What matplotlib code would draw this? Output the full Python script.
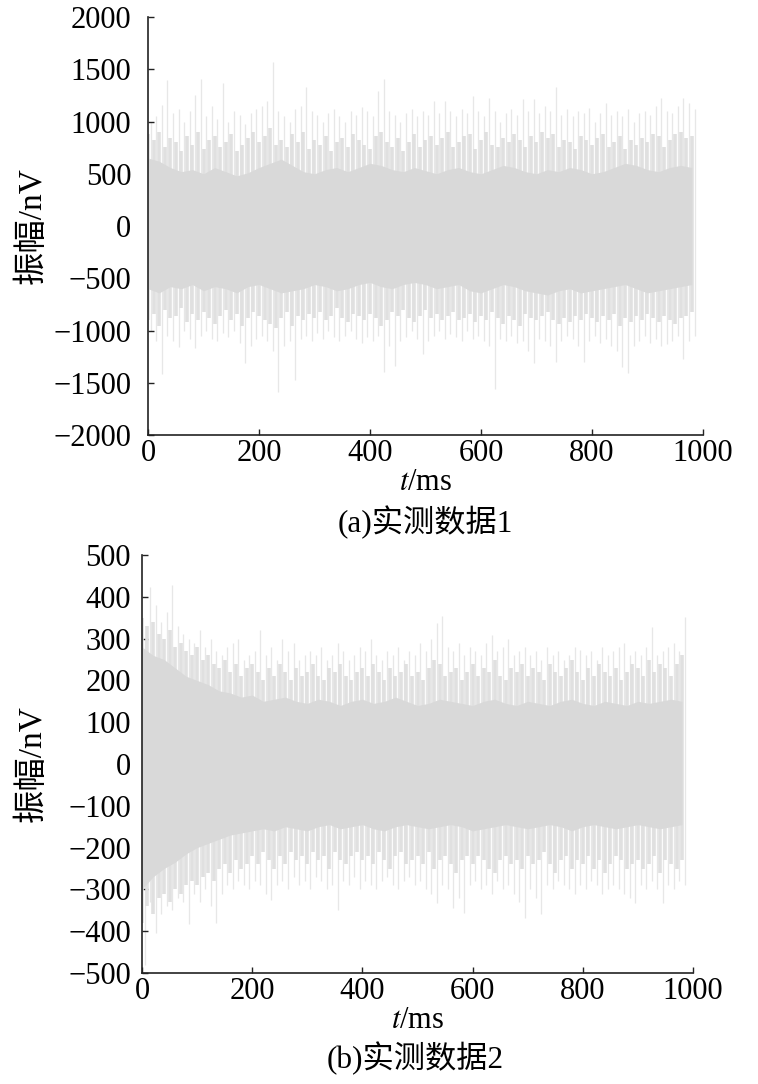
import numpy as np
import matplotlib
matplotlib.use("Agg")
import matplotlib.pyplot as plt

plt.rcParams['font.family'] = ['Liberation Serif', 'Noto Sans CJK SC']
plt.rcParams['mathtext.fontset'] = 'stix'
plt.rcParams['axes.unicode_minus'] = True

# --- data (nV) ---
# solid band edges every 20 ms, ragged zone every 10 ms, spike extremes every 10 ms (offset 5 ms)
t20 = np.arange(0, 1000, 20)
t10 = np.arange(0, 990, 10)
t_spk = np.arange(5, 995, 10)

# (a) measured data 1
core_hi1 = [650, 620, 560, 520, 540, 500, 560, 520, 480, 510, 560, 600, 640, 580, 520, 500, 540, 560, 520, 560,
            600, 580, 540, 520, 560, 530, 500, 540, 560, 520, 500, 540, 580, 560, 520, 500, 540, 520, 560, 540,
            500, 520, 560, 600, 580, 540, 520, 560, 580, 560]
core_lo1 = [-600, -640, -580, -600, -560, -620, -580, -600, -640, -580, -560, -600, -640, -620, -600, -560, -580,
            -620, -600, -560, -540, -580, -600, -560, -540, -560, -600, -580, -560, -620, -640, -600, -560, -580,
            -620, -640, -660, -620, -600, -640, -620, -600, -580, -560, -600, -640, -620, -600, -580, -560]
mid_hi1 = [880, 820, 900, 760, 840, 800, 720, 860, 780, 900,
           740, 820, 860, 760, 800, 880, 720, 780, 840, 900,
           800, 860, 940, 780, 820, 760, 880, 800, 900, 740,
           820, 780, 860, 720, 800, 840, 760, 880, 820, 780,
           740, 860, 900, 800, 760, 840, 720, 800, 880, 760,
           820, 860, 780, 840, 900, 760, 800, 860, 880, 740,
           820, 900, 780, 760, 840, 800, 880, 820, 760, 860,
           800, 900, 840, 880, 760, 820, 800, 740, 860, 820,
           780, 840, 880, 760, 800, 860, 740, 820, 780, 840,
           800, 880, 860, 760, 820, 880, 900, 840, 860]
mid_lo1 = [-900, -840, -960, -800, -880, -860, -780, -920, -840, -900,
           -820, -880, -940, -860, -800, -900, -840, -960, -880, -820,
           -860, -900, -940, -980, -880, -820, -960, -860, -900, -840,
           -880, -820, -900, -860, -780, -880, -920, -840, -860, -900,
           -840, -880, -960, -900, -820, -860, -800, -880, -920, -860,
           -800, -880, -840, -900, -860, -820, -900, -880, -840, -920,
           -860, -900, -820, -880, -940, -860, -900, -960, -840, -880,
           -900, -860, -820, -900, -940, -880, -920, -860, -900, -840,
           -880, -920, -860, -900, -840, -960, -880, -920, -860, -900,
           -840, -880, -920, -860, -900, -940, -880, -860, -820]
peak_hi1 = [1000, 1050, 1160, 1394, 1080, 1120, 1000, 1100, 1250, 1404, 1050, 1150, 1020, 1372, 1000, 1100,
            1060, 980, 1080, 1120, 1150, 1200, 1570, 1100, 1050, 1000, 1120, 1150, 1333, 1100, 1060, 1000, 1080,
            1120, 1050, 1000, 1100, 1060, 1141, 1100, 1050, 1292, 1404, 1100, 1060, 1000, 1080, 1120, 1050, 1100,
            1060, 1195, 1080, 1195, 1100, 1050, 1120, 1080, 1244, 1100, 1050, 1228, 1100, 1000, 1080, 1120, 1060,
            1218, 1100, 1212, 1080, 1150, 1100, 1333, 1060, 1120, 1050, 1100, 1080, 1131, 1000, 1080, 1179, 1060,
            1100, 1050, 1120, 1000, 1080, 1100, 1060, 1150, 1228, 1100, 1080, 1150, 1221, 1180, 1115]
peak_lo1 = [-1000, -1100, -1417, -1050, -1100, -1160, -1000, -1080, -1167, -1050, -1000, -1080, -1100, -1020,
            -1060, -1000, -1120, -1311, -1150, -1080, -1050, -1100, -1200, -1593, -1150, -1100, -1474, -1080,
            -1050, -1100, -1020, -1080, -1000, -1060, -1100, -1050, -1000, -1080, -1120, -1060, -1100, -1050,
            -1394, -1150, -1337, -1100, -1060, -1000, -1080, -1224, -1100, -1050, -1000, -1080, -1032, -1060,
            -1100, -1000, -1080, -1050, -1100, -1150, -1561, -1080, -1100, -1050, -1120, -1100, -1200, -1311,
            -1080, -1100, -1150, -1298, -1100, -1050, -1080, -1150, -1298, -1100, -1050, -1120, -1080, -1150,
            -1200, -1346, -1410, -1150, -1100, -1050, -1120, -1080, -1150, -1128, -1100, -1050, -1272, -1100, -1050]

# (b) measured data 2
core_hi2 = [280, 260, 250, 230, 210, 200, 190, 175, 170, 160, 165, 150, 155, 160, 150, 145, 155, 150, 140, 150,
            155, 145, 150, 160, 150, 140, 145, 155, 150, 145, 140, 150, 155, 145, 140, 150, 145, 140, 150, 155,
            145, 140, 150, 145, 140, 150, 145, 150, 155, 150]
core_lo2 = [-300, -270, -250, -235, -215, -200, -190, -180, -170, -165, -160, -155, -160, -150, -155, -160, -150,
            -145, -155, -150, -145, -155, -160, -150, -145, -150, -155, -150, -145, -150, -160, -155, -150, -145,
            -150, -155, -150, -145, -150, -160, -150, -145, -150, -155, -150, -145, -150, -155, -150, -145]
mid_hi2 = [350, 330, 340, 310, 300, 320, 280, 290, 270, 260,
           280, 250, 260, 240, 230, 250, 220, 240, 210, 230,
           240, 220, 200, 230, 210, 240, 220, 200, 230, 210,
           220, 240, 210, 200, 230, 220, 240, 210, 200, 220,
           230, 210, 240, 220, 200, 230, 210, 220, 240, 210,
           220, 200, 230, 250, 240, 210, 220, 230, 200, 220,
           240, 210, 230, 220, 250, 210, 200, 230, 220, 240,
           210, 230, 220, 200, 240, 220, 210, 230, 250, 220,
           200, 230, 210, 240, 220, 210, 230, 200, 220, 240,
           230, 210, 250, 220, 240, 230, 210, 240, 260]
mid_lo2 = [-380, -340, -360, -320, -310, -330, -300, -310, -290, -280,
           -290, -270, -260, -280, -250, -240, -260, -230, -250, -240,
           -220, -240, -210, -230, -250, -220, -240, -210, -230, -220,
           -240, -210, -230, -220, -250, -210, -230, -240, -220, -210,
           -230, -220, -240, -210, -230, -250, -220, -210, -240, -230,
           -220, -240, -210, -250, -230, -220, -240, -260, -230, -220,
           -240, -220, -230, -250, -260, -230, -220, -240, -230, -250,
           -220, -240, -230, -210, -240, -260, -230, -220, -250, -230,
           -240, -220, -250, -230, -260, -240, -220, -230, -250, -240,
           -230, -250, -240, -220, -260, -230, -240, -250, -230]
peak_hi2 = [300, 423, 380, 340, 364, 428, 330, 310, 300, 290, 320, 280, 300, 270, 260, 280, 290, 300, 250, 260,
            270, 320, 260, 280, 250, 300, 270, 290, 250, 260, 270, 260, 280, 250, 260, 290, 270, 250, 260, 280,
            270, 300, 260, 250, 270, 260, 280, 250, 270, 260, 290, 270, 300, 337, 354, 280, 270, 290, 260, 280,
            270, 260, 290, 309, 270, 280, 300, 260, 270, 280, 260, 270, 250, 280, 260, 270, 250, 260, 280, 273,
            260, 270, 250, 280, 260, 270, 280, 290, 260, 270, 260, 280, 328, 260, 270, 280, 290, 270, 352]
peak_lo2 = [-480, -330, -404, -360, -340, -350, -320, -330, -383, -310, -330, -300, -340, -380, -310, -290, -300,
            -280, -290, -300, -280, -290, -310, -325, -290, -280, -300, -270, -290, -280, -300, -270, -280, -300,
            -290, -349, -280, -290, -270, -300, -280, -290, -300, -280, -270, -290, -300, -280, -270, -290, -280,
            -300, -310, -332, -290, -300, -344, -320, -356, -290, -280, -300, -290, -310, -280, -300, -290, -310,
            -330, -368, -300, -320, -360, -290, -300, -280, -290, -300, -310, -290, -300, -280, -290, -310, -300,
            -290, -300, -310, -320, -332, -290, -300, -280, -300, -332, -290, -300, -280, -290]

x_ticks = [0, 200, 400, 600, 800, 1000]
y_ticks1 = [-2000, -1500, -1000, -500, 0, 500, 1000, 1500, 2000]
y_ticks2 = [-500, -400, -300, -200, -100, 0, 100, 200, 300, 400, 500]

fs = 22
fig = plt.figure(figsize=(7.58, 10.84), dpi=100)
ax1 = fig.add_axes([0.1953, 0.5987, 0.732, 0.3856])
ax2 = fig.add_axes([0.1873, 0.1024, 0.727, 0.3856])


def draw_signal(ax, core_hi, core_lo, mid_hi, mid_lo, peak_hi, peak_lo):
    # thin outliers, ragged zone, then the solid band on top
    ax.vlines(t_spk, peak_lo, peak_hi, color='#e7e7e7', lw=0.9, zorder=1)
    ax.vlines(t10, mid_lo, mid_hi, color='#e0e0e0', lw=2.6, zorder=2)
    ax.fill_between(t20, core_lo, core_hi, color='#d9d9d9', lw=0, zorder=3)


def style(ax, yticks, ylim, pad):
    ax.set_xlim(0, 1000)
    ax.set_ylim(*ylim)
    ax.set_xticks(x_ticks)
    ax.set_yticks(yticks)
    for s in ['top', 'right']:
        ax.spines[s].set_visible(False)
    for s in ['left', 'bottom']:
        ax.spines[s].set_color('#222222')
        ax.spines[s].set_linewidth(1.2)
        ax.spines[s].set_zorder(5)
    ax.tick_params(axis='both', direction='in', length=4, width=1, colors='#222222',
                   labelcolor='black', labelsize=fs)
    ax.tick_params(axis='y', pad=pad)
    ax.tick_params(axis='x', pad=3)
    ax.set_xlabel('$t$/ms', fontsize=fs, labelpad=0)
    ax.set_ylabel('振幅/nV', fontsize=24, labelpad=2)


draw_signal(ax1, core_hi1, core_lo1, mid_hi1, mid_lo1, peak_hi1, peak_lo1)
style(ax1, y_ticks1, (-2000, 2000), 12)
draw_signal(ax2, core_hi2, core_lo2, mid_hi2, mid_lo2, peak_hi2, peak_lo2)
style(ax2, y_ticks2, (-500, 500), 8)
ax1.yaxis.set_label_coords(-0.18, 0.5)
ax2.yaxis.set_label_coords(-0.17, 0.5)

fig.text(0.561, 1 - 522 / 1084, '(a)实测数据1', fontsize=22.5, ha='center', va='center')
fig.text(0.548, 1 - 1058 / 1084, '(b)实测数据2', fontsize=22.5, ha='center', va='center')

fig.savefig('out.png', dpi=100)
